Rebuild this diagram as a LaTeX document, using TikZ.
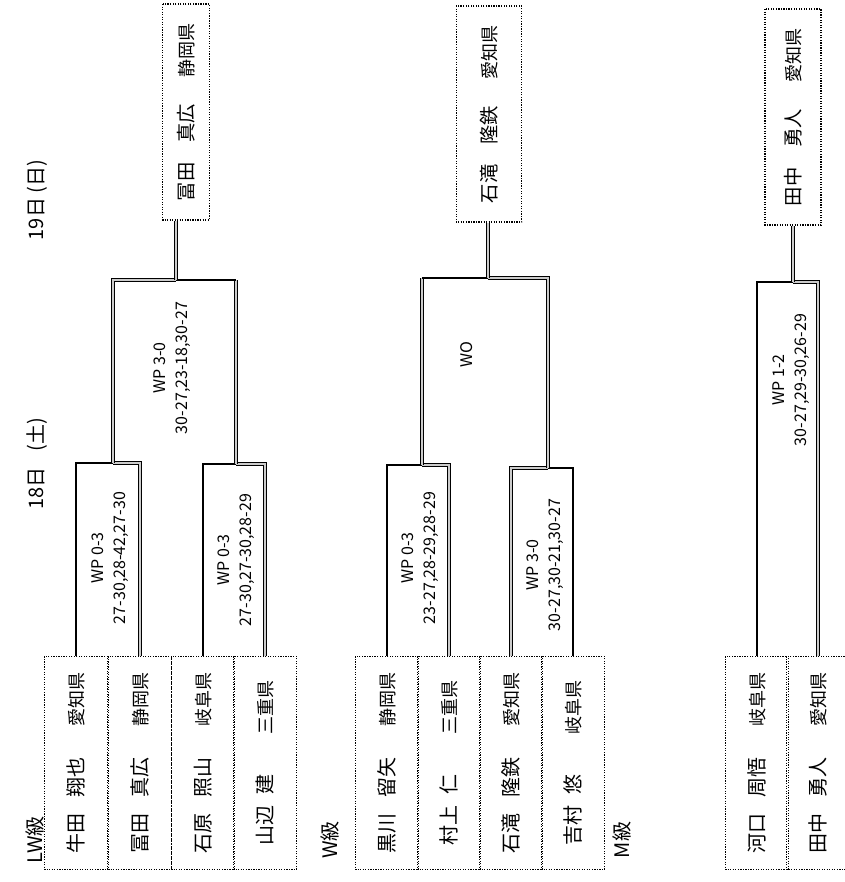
\documentclass[tikz,border=0pt]{standalone}
\usepackage{fontspec}
\setmainfont{Noto Sans CJK JP}
\usetikzlibrary{positioning}
\newcommand{\prefname}[1]{{\fontsize{13.5}{14}\selectfont #1}}
\tikzset{
  entry/.style={draw, densely dotted, line width=0.9pt, rotate=90, inner sep=0pt,
    minimum width=160pt, minimum height=47pt, font=\fontsize{15}{15}\selectfont},
  champ/.style={entry, minimum width=162pt, font=\fontsize{14.5}{15}\selectfont},
  lose line/.style={line width=1pt},
  win line/.style={line width=1pt, double=gray!40, double distance=1.5pt},
  result/.style={rotate=90, align=center, inner sep=0pt, font=\fontsize{12}{17}\selectfont},
  heading/.style={rotate=90, inner sep=0pt, font=\fontsize{15}{15}\selectfont},
}
\begin{document}
\begin{tikzpicture}[x=0.75pt, y=-0.75pt]
\useasboundingbox (0,0) rectangle (845,882);

% days
\node[heading] at (37,464) (day1) {18日\hspace{0.8em}(土)};
\node[heading] at (37,200) (day2) {19日 (日)};

% LW級
\node[heading] at (35,840) (lwtitle) {LW級};
\node[entry] at (76,763)  (lw1) {牛田\hspace{12pt}翔也\hspace{23pt}\prefname{愛知県}};
\node[entry] at (140,763) (lw2) {冨田\hspace{12pt}真広\hspace{23pt}\prefname{静岡県}};
\node[entry] at (203,763) (lw3) {石原\hspace{12pt}照山\hspace{23pt}\prefname{岐阜県}};
\node[entry] at (265,763) (lw4) {山辺\hspace{8pt}建\hspace{30pt}\prefname{三重県}};
\node[champ, minimum height=35pt] at (186,112) (lwwin) {冨田\hspace{15pt}真広\hspace{20pt}\prefname{静岡県}};

\coordinate (lwA) at (113,463);
\coordinate (lwB) at (236,464);
\coordinate (lwF) at (176,280);
\draw [lose line] (lw1.east) |- (lwA);
\draw [win line] (lw2.east) |- (lwA);
\draw [lose line] (lw3.east) |- (lwB);
\draw [win line] (lw4.east) |- (lwB);
\draw [win line] (lwA) -- (lwA |- lwF) -- (lwF);
\draw [win line] (lwB) -- (lwB |- lwF);
\draw [lose line] (lwB |- lwF) -- (lwF);
\draw [win line] (lwF) -- (lwF |- lwwin.west);
\node[result] at (110,558) (lwAres) {WP 0-3\\27-30,28-42,27-30};
\node[result] at (236,560) (lwBres) {WP 0-3\\27-30,27-30,28-29};
\node[result] at (172,368) (lwFres) {WP 3-0\\30-27,23-18,30-27};

% W級
\node[heading] at (330,840) (wtitle) {W級};
\node[entry] at (387,763) (w1) {黒川\hspace{12pt}留矢\hspace{23pt}\prefname{静岡県}};
\node[entry] at (449,763) (w2) {村上\hspace{8pt}仁\hspace{30pt}\prefname{三重県}};
\node[entry] at (511,763) (w3) {石滝\hspace{12pt}隆鉄\hspace{23pt}\prefname{愛知県}};
\node[entry] at (573,763) (w4) {吉村\hspace{8pt}悠\hspace{30pt}\prefname{岐阜県}};
\node[champ, minimum height=49pt] at (489,114) (wwin) {石滝\hspace{15pt}隆鉄\hspace{20pt}\prefname{愛知県}};

\coordinate (wA) at (422,465);
\coordinate (wB) at (548,468);
\coordinate (wF) at (488,278);
\draw [lose line] (w1.east) |- (wA);
\draw [win line] (w2.east) |- (wA);
\draw [win line] (w3.east) |- (wB);
\draw [lose line] (w4.east) |- (wB);
\draw [win line] (wA) -- (wA |- wF);
\draw [lose line] (wA |- wF) -- (wF);
\draw [win line] (wB) -- (wB |- wF) -- (wF);
\draw [win line] (wF) -- (wF |- wwin.west);
\node[result] at (420,558) (wAres) {WP 0-3\\23-27,28-29,28-29};
\node[result] at (545,565) (wBres) {WP 3-0\\30-27,30-21,30-27};
\node[result] at (467,355) (wFres) {WO};

% M級
\node[heading] at (622,840) (mtitle) {M級};
\node[entry] at (757,763) (m1) {河口\hspace{12pt}周悟\hspace{23pt}\prefname{岐阜県}};
\node[entry] at (818,763) (m2) {田中\hspace{12pt}勇人\hspace{23pt}\prefname{愛知県}};
\node[champ, minimum height=42pt] at (793,117) (mwin) {田中\hspace{15pt}勇人\hspace{20pt}\prefname{愛知県}};

\coordinate (mF) at (793,282);
\draw [lose line] (m1.east) |- (mF);
\draw [win line] (m2.east) |- (mF);
\draw [win line] (mF) -- (mF |- mwin.west);
\node[result] at (791,380) (mFres) {WP 1-2\\30-27,29-30,26-29};
\end{tikzpicture}
\end{document}
